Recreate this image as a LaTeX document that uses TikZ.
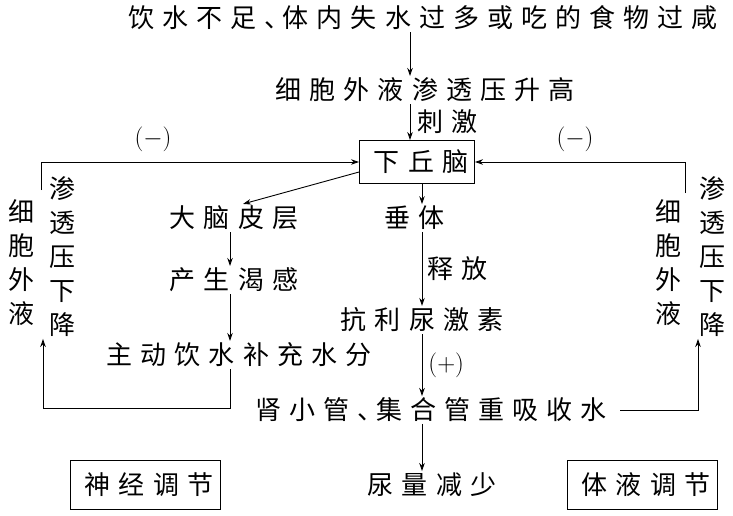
\documentclass[tikz,border=0pt]{standalone}
\usepackage{fontspec}
\usepackage{tikz}
\usetikzlibrary{arrows.meta,positioning,calc}
\newfontfamily\cjk[LetterSpace=31]{Noto Sans CJK SC}
\newfontfamily\cjkv{Noto Sans CJK SC}
\newcommand{\dun}{、\kern-0.3em}

\begin{document}
\begin{tikzpicture}[x=1pt,y=-1pt,>={Stealth[length=8pt,width=5.5pt]},line width=0.9pt,
  txt/.style={font=\cjk\fontsize{26}{30}\selectfont,inner sep=1.5pt,execute at end node={\kern-0.31em}},
  vtxt/.style={font=\cjkv\fontsize{26}{34}\selectfont,align=center,inner sep=1.5pt},
  sign/.style={font=\fontsize{25}{28}\selectfont,inner sep=2pt},
  tagbox/.style={txt,draw,minimum width=150pt,minimum height=49pt}]
  \useasboundingbox (0,0) rectangle (733,516);
  % text of the chain
  \node[txt] (cause) at (419,18) {饮水不足\dun 体内失水过多或吃的食物过咸};
  \node[txt] (rise) at (421,90) {细胞外液渗透压升高};
  \node[txt,draw,minimum width=115pt,minimum height=43pt] (hyp) at (417,162) {下丘脑};
  \node[txt] (cortex) at (230,218) {大脑皮层};
  \node[txt] (thirst) at (230,280) {产生渴感};
  \node[txt] (drink) at (235,355) {主动饮水补充水分};
  \node[txt] (pit) at (410,218) {垂体};
  \node[txt] (adh) at (418,320) {抗利尿激素};
  \node[txt] (reab) at (427,410) {肾小管\dun 集合管重吸收水};
  \node[txt] (urine) at (428,485) {尿量减少};
  \node[tagbox] (nerve) at (145,485) {神经调节};
  \node[tagbox] (humor) at (642,485) {体液调节};
  % side columns
  \node[vtxt] (lfluid) at (22,263) {细\\胞\\外\\液};
  \node[vtxt] (ldrop) at (62,257) {渗\\透\\压\\下\\降};
  \node[vtxt] (rfluid) at (668,263) {细\\胞\\外\\液};
  \node[vtxt] (rdrop) at (712,257) {渗\\透\\压\\下\\降};
  \node[sign] (lneg) at (153,139) {$(-)$};
  \node[sign] (rneg) at (575,139) {$(-)$};
  \coordinate (colA) at (410,0);
  \coordinate (colB) at (422,0);
  \coordinate (ltop) at (41,190);
  \coordinate (rtop) at (685,193);
  \coordinate (lfoot) at (43,408);
  \coordinate (rfoot) at (698,0);
  % arrows
  \draw[->] (cause.south -| colA) -- (rise.north -| colA);
  \draw[->] (rise.south -| colA) -- (hyp.north -| colA) node[txt,midway,right,xshift=6pt] {刺激};
  \draw[->] (ltop) |- (hyp.west);
  \draw[->] (rtop) |- (hyp.east);
  \draw[->] ([yshift=-10pt]hyp.west) -- ([xshift=13pt]cortex.north);
  \draw[->] (cortex) -- (thirst);
  \draw[->] (thirst.south) -- (thirst.south |- drink.north);
  \draw[->] (drink.south -| thirst.south) |- (lfoot) -- (lfoot |- ldrop.south);
  \draw[->] (hyp.south -| colB) -- (pit.north -| colB);
  \draw[->] (pit.south -| colB) -- (adh.north -| colB) node[txt,midway,right,xshift=4pt] {释放};
  \draw[->] (adh.south -| colB) -- (reab.north -| colB) node[sign,midway,right,xshift=4pt] {$(+)$};
  \draw[->] (reab.south -| colB) -- (urine.north -| colB);
  \draw[->] ([xshift=20pt]reab.east) -| (rfoot |- rdrop.south);
\end{tikzpicture}
\end{document}
